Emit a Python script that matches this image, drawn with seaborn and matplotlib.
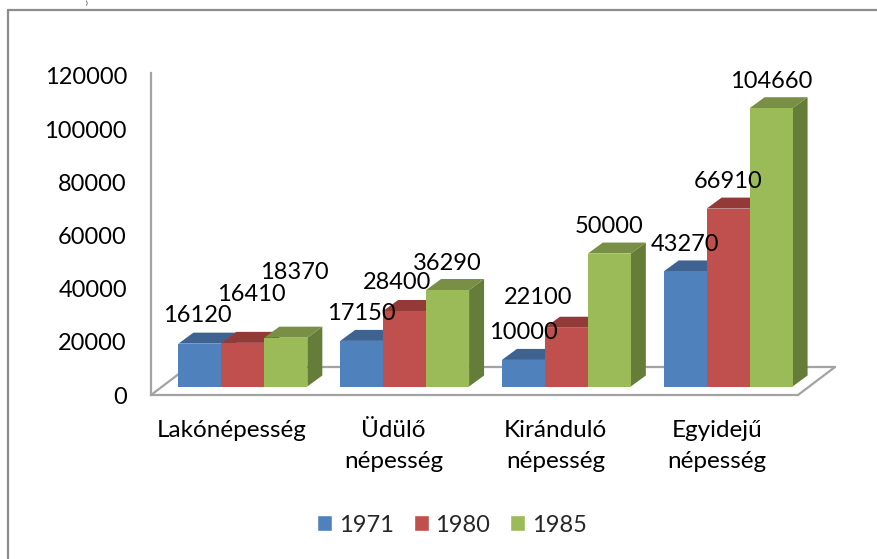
import pandas as pd
import matplotlib
matplotlib.use('Agg')
import matplotlib.pyplot as plt
import matplotlib.transforms as mtransforms
from matplotlib.lines import Line2D
from matplotlib.patches import Polygon
import seaborn as sns

categories = ['Lakónépesség', 'Üdülő\nnépesség', 'Kiránduló\nnépesség', 'Egyidejű\nnépesség']
years = ['1971', '1980', '1985']
values_1971 = [16120, 17150, 10000, 43270]
values_1980 = [16410, 28400, 22100, 66910]
values_1985 = [18370, 36290, 50000, 104660]
y_ticks = [0, 20000, 40000, 60000, 80000, 100000, 120000]

front_colors = ['#4F81BD', '#C0504D', '#9BBB59']
top_colors = ['#3F6390', '#933A38', '#788F45']
side_colors = ['#375A82', '#7F3230', '#667C39']
grey = '#A3A3A3'

# label offsets in pixels from the bar's front top, where the default is not used
label_shift = {(0, 0): (-3, 28), (0, 1): (8, 48), (0, 2): (8, 65), (1, 1): (-8, 28), (2, 1): (-28, 30)}

W, H = 877, 559
sns.set_theme(style='white')
plt.rcParams['font.family'] = ['Lato', 'DejaVu Sans']

df = pd.DataFrame({
    'category': categories * 3,
    'year': [y for y in years for _ in categories],
    'value': values_1971 + values_1980 + values_1985,
})

fig = plt.figure(figsize=(W / 100, H / 100), dpi=100)
ax = fig.add_axes([151 / W, 1 - 395 / H, 647 / W, 322 / H])
ax.patch.set_alpha(0)

sns.barplot(data=df, x='category', y='value', hue='year', palette=front_colors,
            width=0.797, gap=0, saturation=1, ax=ax)
ax.set_xlim(-0.5, 3.5)
ax.set_ylim(0, 121100)
ax.set_yticks(y_ticks)
ax.set_xlabel('')
ax.set_ylabel('')
ax.tick_params(axis='y', length=0, pad=17.3, labelsize=17, labelcolor='black')
ax.tick_params(axis='x', length=0, pad=18, labelsize=17.5, labelcolor='black')
for lab in ax.get_xticklabels():
    lab.set_linespacing(1.6)

sns.despine(ax=ax, top=True, right=True)
for s in ['left', 'bottom']:
    ax.spines[s].set_color(grey)
    ax.spines[s].set_linewidth(1.6)

# outer frame of the chart
def px_line(xs, ys, color=grey, lw=1.6, zorder=0):
    fig.add_artist(Line2D([x / W for x in xs], [1 - y / H for y in ys],
                          color=color, lw=lw, zorder=zorder))

px_line([7.5, 7.5], [10, H], color='#8C8C8C')
px_line([7.5, W], [10, 10], color='#8C8C8C')

# floor of the 3D box
px_line([151, 188], [395, 367])
px_line([188, 835], [367, 367])
px_line([835, 798], [367, 395])

# bars sit a little behind the front edge of the floor
shift = mtransforms.offset_copy(ax.transData, fig=fig, x=11, y=8.5, units='dots')
depth_x, depth_y = 15, 11

for i, container in enumerate(ax.containers):
    for j, bar in enumerate(container):
        bar.set_transform(shift)
        bar.set_clip_on(False)
        bar.set_edgecolor('none')
        z = 3 + j * 3 + i * 0.3
        bar.set_zorder(z + 0.2)
        x0, y0 = shift.transform((bar.get_x(), 0))
        x1, y1 = shift.transform((bar.get_x() + bar.get_width(), bar.get_height()))
        side = [(x1, y0), (x1 + depth_x, y0 + depth_y), (x1 + depth_x, y1 + depth_y), (x1, y1)]
        top = [(x0, y1), (x1, y1), (x1 + depth_x, y1 + depth_y), (x0 + depth_x, y1 + depth_y)]
        for pts, col in [(side, side_colors[i]), (top, top_colors[i])]:
            ax.add_patch(Polygon(pts, closed=True, facecolor=col, edgecolor='none',
                                 transform=mtransforms.IdentityTransform(),
                                 clip_on=False, zorder=z))
        dx, dy = label_shift.get((j, i), (0, 27))
        ax.annotate(f'{bar.get_height():.0f}', xy=((x0 + x1) / 2 + dx, y1 + dy),
                    xycoords='figure pixels', ha='center', va='center',
                    fontsize=17, color='black', zorder=30, annotation_clip=False)

handles, labels = ax.get_legend_handles_labels()
ax.legend(handles, labels, ncol=3, loc='center', frameon=False, fontsize=17,
          bbox_to_anchor=(452 / W, 1 - 525 / H), bbox_transform=fig.transFigure,
          handlelength=0.64, handleheight=0.64, handletextpad=0.28,
          columnspacing=0.85, borderpad=0)

# remains of the caption above the chart
fig.text(87 / W, 1 - 3 / H, ')', fontsize=4.5, color='black', ha='center', va='center')

fig.savefig('out.png', dpi=100)
